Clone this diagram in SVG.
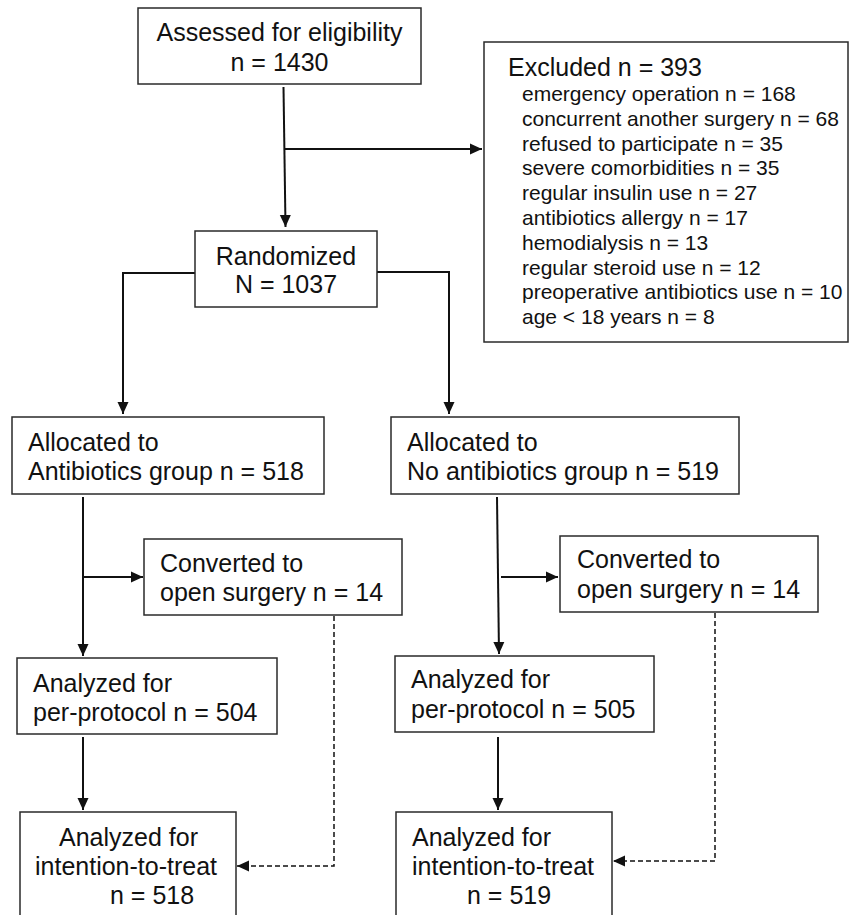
<svg xmlns="http://www.w3.org/2000/svg" width="850" height="915" viewBox="0 0 850 915">
<style>
.box{fill:#fff;stroke:#2a2a2a;stroke-width:1.5}
.t{font-family:"Liberation Sans",Arial,sans-serif;font-size:25px;fill:#111}
.s{font-family:"Liberation Sans",Arial,sans-serif;font-size:21px;fill:#111}
.c{fill:none;stroke:#111;stroke-width:2}
.d{fill:none;stroke:#111;stroke-width:1.5;stroke-dasharray:5 3}
</style>
<defs>
<marker id="ah" markerUnits="userSpaceOnUse" markerWidth="14" markerHeight="14" viewBox="0 0 14 14" refX="12" refY="7" orient="auto">
<path d="M0,1.5 L12,7 L0,12.5 Z" fill="#111"/>
</marker>
</defs>
<rect width="850" height="915" fill="#fff"/>
<g id="connectors">
<path class="c" d="M283.5,87 L285.5,227" marker-end="url(#ah)"/>
<path class="c" d="M285,149 L482,149" marker-end="url(#ah)"/>
<path class="c" d="M195,273 L123,273 L123,414" marker-end="url(#ah)"/>
<path class="c" d="M377,272 L449,272 L449,414" marker-end="url(#ah)"/>
<path class="c" d="M83,497 L83,656" marker-end="url(#ah)"/>
<path class="c" d="M84,577 L143,577" marker-end="url(#ah)"/>
<path class="d" d="M334,616 L334,866 L237,866" marker-end="url(#ah)"/>
<path class="c" d="M83,737 L83,810" marker-end="url(#ah)"/>
<path class="c" d="M497,497 L499,654" marker-end="url(#ah)"/>
<path class="c" d="M501,577 L558,577" marker-end="url(#ah)"/>
<path class="d" d="M715,613 L715,861 L613,861" marker-end="url(#ah)"/>
<path class="c" d="M498,737 L498,810" marker-end="url(#ah)"/>
</g>
<g id="assessed">
<rect class="box" x="138" y="8" width="283" height="76"/>
<text class="t" x="279.5" y="41" text-anchor="middle">Assessed for eligibility</text>
<text class="t" x="279.5" y="71" text-anchor="middle">n = 1430</text>
</g>
<g id="excluded">
<rect class="box" x="484" y="42" width="364" height="300"/>
<text class="t" x="508" y="76">Excluded n = 393</text>
<text class="s" x="522" y="101">emergency operation n = 168</text>
<text class="s" x="522" y="125.8">concurrent another surgery n = 68</text>
<text class="s" x="522" y="150.6">refused to participate n = 35</text>
<text class="s" x="522" y="175.4">severe comorbidities n = 35</text>
<text class="s" x="522" y="200.2">regular insulin use n = 27</text>
<text class="s" x="522" y="225">antibiotics allergy n = 17</text>
<text class="s" x="522" y="249.8">hemodialysis n = 13</text>
<text class="s" x="522" y="274.6">regular steroid use n = 12</text>
<text class="s" x="522" y="299.4">preoperative antibiotics use n = 10</text>
<text class="s" x="522" y="324.2">age &lt; 18 years n = 8</text>
</g>
<g id="randomized">
<rect class="box" x="195" y="231" width="182" height="76"/>
<text class="t" x="286" y="265" text-anchor="middle">Randomized</text>
<text class="t" x="286" y="293" text-anchor="middle">N = 1037</text>
</g>
<g id="alloc-abx">
<rect class="box" x="12" y="417" width="312" height="77"/>
<text class="t" x="28" y="451">Allocated to</text>
<text class="t" x="28" y="480">Antibiotics group n = 518</text>
</g>
<g id="alloc-noabx">
<rect class="box" x="391" y="417" width="348" height="77"/>
<text class="t" x="407" y="451">Allocated to</text>
<text class="t" x="407" y="480">No antibiotics group n = 519</text>
</g>
<g id="conv-left">
<rect class="box" x="144" y="539" width="258" height="76"/>
<text class="t" x="160" y="572">Converted to</text>
<text class="t" x="160" y="601">open surgery n = 14</text>
</g>
<g id="conv-right">
<rect class="box" x="560" y="536" width="258" height="76"/>
<text class="t" x="577" y="568">Converted to</text>
<text class="t" x="577" y="598">open surgery n = 14</text>
</g>
<g id="pp-left">
<rect class="box" x="17" y="658" width="260" height="76"/>
<text class="t" x="33" y="692">Analyzed for</text>
<text class="t" x="33" y="721">per-protocol n = 504</text>
</g>
<g id="pp-right">
<rect class="box" x="395" y="656" width="259" height="76"/>
<text class="t" x="411" y="688">Analyzed for</text>
<text class="t" x="411" y="718">per-protocol n = 505</text>
</g>
<g id="itt-left">
<rect class="box" x="20" y="812" width="216" height="120"/>
<text class="t" x="59" y="846">Analyzed for</text>
<text class="t" x="35" y="875">intention-to-treat</text>
<text class="t" x="110" y="904">n = 518</text>
</g>
<g id="itt-right">
<rect class="box" x="396" y="812" width="216" height="120"/>
<text class="t" x="412" y="846">Analyzed for</text>
<text class="t" x="412" y="875">intention-to-treat</text>
<text class="t" x="467" y="904">n = 519</text>
</g>
</svg>
